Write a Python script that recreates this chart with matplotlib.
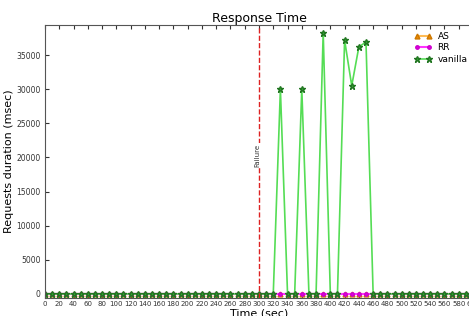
import numpy as np
import matplotlib
matplotlib.use("Agg")
import matplotlib.pyplot as plt

# time axis, one sample every 10 s
times = list(range(0, 610, 10))

# vanilla peaks (sec -> msec), everything else is ~0
vanilla_peaks = {330: 30000, 360: 30000, 390: 38300, 420: 37200,
                 430: 30500, 440: 36200, 450: 36900}
as_vals = [0 for t in times]
rr_vals = [0 for t in times]
vanilla_vals = [vanilla_peaks.get(t, 0) for t in times]

failure_time = 300

fig = plt.figure(figsize=(4.69, 3.16), dpi=100)
ax = fig.add_axes([45/469, 1 - 298/316, (473-45)/469, (298-25)/316])

ax.plot(times, as_vals, '-^', color='#ffbb55', mfc='#ee8800', mec='#cc7700',
        ms=3.5, lw=1.5, label='AS')
ax.plot(times, rr_vals, '-o', color='#ff33ff', mfc='#dd00dd', mec='#cc00cc',
        ms=2.5, lw=1.5, label='RR')
ax.plot(times, vanilla_vals, '-*', color='#55dd55', mfc='#33aa33', mec='#227722',
        ms=5, lw=1.2, label='vanilla')

ax.axvline(failure_time, color='#dd2222', ls='--', lw=1)
ax.text(failure_time - 2, 20300, 'Failure', rotation=90, fontsize=5,
        ha='center', va='center', color='#333333',
        bbox=dict(facecolor='white', edgecolor='none', pad=0.5))

ax.set_xlim(0, 600)
ax.set_ylim(-600, 39400)
ax.set_xticks(range(0, 610, 20))
ax.set_yticks(range(0, 36000, 5000))
ax.tick_params(axis='x', labelsize=5, pad=2)
ax.tick_params(axis='y', labelsize=5.5, pad=3)
ax.tick_params(length=3, direction='in', colors='#333333', top=True, right=True)
for s in ax.spines.values():
    s.set_color('#555555')

ax.set_title('Response Time', fontsize=9, pad=2)
ax.set_xlabel('Time (sec)', fontsize=8, labelpad=1)
ax.set_ylabel('Requests duration (msec)', fontsize=8, labelpad=2)

leg = ax.legend(loc='upper right', bbox_to_anchor=(1.0, 0.995), frameon=False,
                fontsize=6.5, numpoints=2, handlelength=2.0, labelspacing=0.3,
                borderaxespad=0.2, handletextpad=0.6)

fig.savefig('out.png', dpi=100)
